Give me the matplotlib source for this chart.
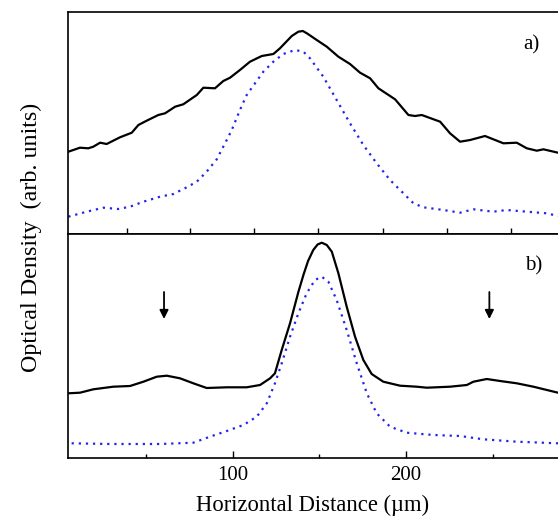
import matplotlib
matplotlib.use("Agg")
import matplotlib.pyplot as plt

plt.rcParams['font.family'] = ['Liberation Serif', 'DejaVu Serif']

# --- data (x in um, optical density in arb. units) ---
# a) upper panel
a_solid_x = [5.2, 11.9, 16.7, 19.6, 23.5, 27.3, 35.0, 41.8, 45.6, 50.4, 57.1, 61.0,
             66.8, 71.5, 79.3, 83.1, 89.8, 94.6, 98.5, 104.2, 110.0, 116.8, 123.5,
             127.3, 134.1, 137.9, 140.5, 143.0, 148.5, 154.3, 161.0, 167.7, 173.5,
             179.3, 184.1, 193.7, 201.4, 205.2, 209.1, 219.7, 225.4, 231.2, 237.0,
             245.6, 256.2, 263.9, 269.7, 275.5, 279.3, 287.7]
a_solid_y = [82.3, 86.3, 85.7, 87.3, 91.3, 90.0, 96.7, 101.3, 109.0, 113.3, 119.0, 120.7,
             127.3, 129.7, 139.0, 146.3, 145.7, 153.0, 156.3, 164.0, 172.3, 178.0, 180.0,
             185.7, 198.0, 202.3, 203.0, 200.5, 194.0, 187.3, 177.3, 170.0, 161.3,
             155.7, 145.7, 134.7, 119.0, 118.0, 119.0, 112.3, 100.7, 92.3, 94.0,
             98.0, 90.7, 91.3, 85.7, 83.3, 84.7, 81.3]

a_dot_x = [5.2, 15.8, 25.4, 34.0, 40.8, 48.5, 58.1, 65.8, 73.5, 79.3, 85.0, 90.8,
           95.6, 99.5, 104.2, 108.1, 112.9, 117.7, 123.5, 129.2, 136.0, 140.8,
           144.6, 152.3, 160.0, 167.7, 175.4, 183.1, 190.8, 198.5, 204.3, 210.0,
           221.6, 231.2, 238.9, 250.4, 258.1, 269.7, 281.2, 287.7]
a_dot_y = [17.3, 22.3, 26.3, 25.0, 27.3, 32.3, 37.3, 40.0, 46.7, 52.3, 62.3, 74.7,
           90.7, 104.0, 124.0, 139.0, 150.7, 162.3, 172.3, 180.0, 184.0, 182.3,
           175.7, 157.3, 134.0, 110.7, 89.0, 70.7, 54.0, 40.7, 30.7, 26.7,
           24.0, 21.3, 24.7, 22.3, 24.0, 22.3, 20.7, 18.0]

# b) lower panel
b_solid_x = [5.2, 11.9, 19.6, 31.1, 40.8, 48.5, 56.2, 62.0, 69.6, 77.3, 85.0, 96.6,
             108.1, 115.8, 121.6, 124.4, 128.3, 133.1, 137.9, 141.0, 143.5, 146.5,
             149.0, 151.4, 154.3, 157.2, 161.0, 165.8, 170.6, 175.4, 180.2, 186.9,
             196.6, 206.2, 212.0, 225.4, 235.1, 238.9, 246.6, 254.3, 263.9, 273.5,
             287.7]
b_solid_y = [64.7, 65.3, 68.7, 71.3, 72.0, 76.3, 81.3, 82.3, 79.7, 74.7, 70.0, 70.7,
             70.7, 73.0, 79.7, 84.7, 108.0, 134.7, 166.0, 184.0, 197.0, 208.0,
             213.5, 215.3, 213.0, 206.3, 184.7, 151.3, 121.3, 98.0, 84.0, 76.3,
             72.3, 71.3, 70.3, 71.3, 73.0, 76.3, 79.0, 77.0, 74.7, 71.3,
             65.3]

b_dot_x = [7.1, 29.2, 58.1, 77.3, 86.9, 96.6, 106.2, 113.9, 119.7, 124.4, 128.3,
           133.1, 137.9, 142.7, 147.5, 151.4, 155.2, 160.0, 165.8, 171.6, 177.4,
           183.1, 190.8, 200.4, 215.8, 231.2, 244.6, 263.9, 287.7]
b_dot_y = [14.7, 14.0, 14.0, 15.3, 21.3, 27.0, 33.0, 41.3, 54.7, 74.7, 94.7,
           121.3, 144.7, 164.7, 178.0, 181.3, 176.3, 158.0, 128.0, 94.7, 64.7,
           44.7, 31.3, 25.3, 23.0, 22.0, 18.7, 16.3, 14.7]

# satellite peaks marked with arrows in b)
arrow_x = [60.4, 248.1]

xticks_major = [100, 200]
xticks_minor = [50, 150, 250]
a_ticks = [38.9, 75.4, 112.3, 149.4, 186.6, 223.5, 260.4]

XMIN, XMAX = 5.0, 287.7
BLUE = '#2424e8'

fig = plt.figure(figsize=(5.58, 5.19), dpi=100)
ax_a = fig.add_axes([68 / 558, 1 - 234 / 519, 1 - 68 / 558, 222 / 519])
ax_b = fig.add_axes([68 / 558, 1 - 458 / 519, 1 - 68 / 558, 224 / 519])

for ax in (ax_a, ax_b):
    ax.set_xlim(XMIN, XMAX)
    ax.spines['right'].set_visible(False)
    for s in ('left', 'top', 'bottom'):
        ax.spines[s].set_linewidth(1.2)
    ax.set_yticks([])
    ax.tick_params(axis='x', direction='in', width=1.0)

# --- panel a ---
ax_a.plot(a_solid_x, a_solid_y, color='black', lw=1.6)
ax_a.plot(a_dot_x, a_dot_y, color=BLUE, lw=1.6, linestyle=(0, (1, 2.2)))
ax_a.set_ylim(0, 222)
ax_a.set_xticks(a_ticks)
ax_a.set_xticklabels([])
ax_a.tick_params(axis='x', length=4)
ax_a.text(0.945, 0.85, 'a)', transform=ax_a.transAxes, fontsize=15,
          ha='center', va='center')

# --- panel b ---
ax_b.plot(b_solid_x, b_solid_y, color='black', lw=1.6)
ax_b.plot(b_dot_x, b_dot_y, color=BLUE, lw=1.6, linestyle=(0, (1, 2.2)))
ax_b.set_ylim(0, 224)
ax_b.set_xticks(xticks_major)
ax_b.set_xticks(xticks_minor, minor=True)
ax_b.tick_params(axis='x', which='major', length=5, labelsize=15, pad=6)
ax_b.tick_params(axis='x', which='minor', length=3, direction='in', width=1.0)
ax_b.text(0.95, 0.86, 'b)', transform=ax_b.transAxes, fontsize=15,
          ha='center', va='center')
for xa in arrow_x:
    ax_b.annotate('', xy=(xa, 139), xytext=(xa, 166),
                  arrowprops=dict(arrowstyle='-|>', color='black', lw=1.3,
                                  mutation_scale=13, shrinkA=0, shrinkB=0))

ax_b.set_xlabel('Horizontal Distance (\u00b5m)', fontsize=16.3, labelpad=7)
fig.text(31 / 558, 1 - 237 / 519, 'Optical Density  (arb. units)', fontsize=17.3,
         rotation=90, ha='center', va='center')

fig.savefig('out.png', dpi=100)
